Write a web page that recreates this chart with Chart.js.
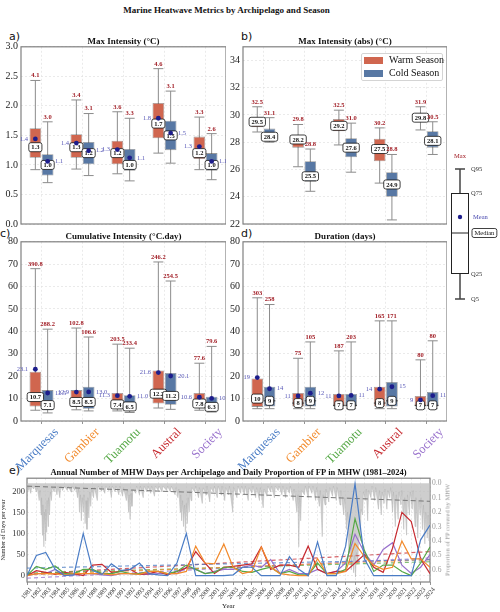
<!DOCTYPE html>
<html>
<head>
<meta charset="utf-8">
<script src="https://cdn.jsdelivr.net/npm/chart.js@4.4.1/dist/chart.umd.min.js"></script>
<style>
  body { margin: 0; background: #fff; }
  #page { position: relative; width: 500px; height: 612px; overflow: hidden; font-family: "Liberation Serif", serif; color: #111; }
  canvas { position: absolute; }
  .tag { position: absolute; font: 11px "DejaVu Sans", sans-serif; line-height: 1; }
  #title { position: absolute; left: 0; width: 453px; top: 5px; text-align: center; font-weight: bold; font-size: 9px; }
  #legend { position: absolute; left: 361px; top: 53px; width: 80px; height: 26px; border: 1px solid #d4d4d4; border-radius: 2px; background: rgba(255,255,255,0.9); font-size: 10px; }
  .li { position: absolute; left: 2px; height: 10px; line-height: 10px; white-space: nowrap; }
  .sw { display: inline-block; width: 19px; height: 7px; margin-right: 6px; vertical-align: -1px; }
  #y2title { position: absolute; left: 447px; top: 530px; transform: translate(-50%, -50%) rotate(-90deg); white-space: nowrap; font-size: 6.5px; color: #999; }
</style>
</head>
<body>
<div id="page">
  <div id="title">Marine Heatwave Metrics by Archipelago and Season</div>
  <div class="tag" style="left:9px;top:31px">a)</div>
  <div class="tag" style="left:241px;top:31px">b)</div>
  <div class="tag" style="left:0px;top:228px">c)</div>
  <div class="tag" style="left:241px;top:228px">d)</div>
  <div class="tag" style="left:9px;top:465px">e)</div>

  <canvas id="chartA" width="226" height="197" style="left:0;top:36px"></canvas>
  <canvas id="chartB" width="225" height="197" style="left:222px;top:36px"></canvas>
  <canvas id="chartC" width="226" height="240" style="left:0;top:231px"></canvas>
  <canvas id="chartD" width="225" height="240" style="left:222px;top:231px"></canvas>
  <canvas id="chartE" width="452" height="144" style="left:0;top:468px"></canvas>
  <canvas id="chartKey" width="60" height="155" style="left:440px;top:150px"></canvas>

  <div id="legend">
    <div class="li" style="top:1px"><span class="sw" style="background:#d0664f"></span>Warm Season</div>
    <div class="li" style="top:14px"><span class="sw" style="background:#5878a4"></span>Cold Season</div>
  </div>
  <div id="y2title">Proportion of FP covered by MHW</div>
</div>

<script>
Chart.defaults.font.family = '"Liberation Serif", "DejaVu Serif", serif';
Chart.defaults.color = '#222';

const archipelagos = ['Marquesas', 'Gambier', 'Tuamotu', 'Austral', 'Society'];
const archColors = ['#4a7cc5', '#f28a2c', '#55a845', '#c62a30', '#9870cc'];

// box stats per archipelago: q5, q25, median, q75, q95, mean, max
const maxIntWarm = [
  [0.92, 1.12, 1.3, 1.62, 2.43, 1.44, 4.1],
  [0.93, 1.12, 1.3, 1.52, 2.10, 1.37, 3.4],
  [0.85, 1.01, 1.2, 1.41, 1.90, 1.26, 3.6],
  [1.20, 1.45, 1.7, 2.05, 2.63, 1.79, 4.6],
  [0.92, 1.10, 1.2, 1.48, 1.81, 1.31, 3.3]
];
const maxIntCold = [
  [0.70, 0.82, 1.0, 1.18, 1.73, 1.06, 3.0],
  [0.82, 1.01, 1.2, 1.39, 1.87, 1.24, 3.1],
  [0.73, 0.90, 1.0, 1.27, 1.79, 1.12, 3.3],
  [1.03, 1.25, 1.5, 1.75, 2.25, 1.54, 3.1],
  [0.75, 0.90, 1.0, 1.20, 1.53, 1.06, 2.6]
];
const absIntWarm = [
  [28.75, 29.1, 29.5, 29.8, 30.6, 29.5, 32.5],
  [26.2, 27.6, 28.2, 28.5, 29.3, 28.2, 29.8],
  [27.8, 28.8, 29.2, 29.7, 30.35, 29.2, 32.5],
  [25.0, 26.6, 27.5, 28.25, 29.05, 27.5, 30.2],
  [28.9, 29.5, 29.8, 30.1, 30.6, 29.8, 31.9]
];
const absIntCold = [
  [28.0, 28.15, 28.4, 29.0, 29.8, 28.4, 31.1],
  [24.4, 25.1, 25.5, 26.6, 27.5, 25.5, 28.8],
  [25.8, 26.9, 27.6, 28.3, 29.4, 27.6, 31.0],
  [22.3, 24.0, 24.9, 25.8, 27.1, 24.9, 28.8],
  [27.1, 27.6, 28.1, 28.8, 29.5, 28.1, 30.5]
];
const cumIntWarm = [
  [4.8, 6.5, 10.7, 22.0, 68.0, 23.1, 390.8],
  [5.0, 6.3, 8.5, 13.8, 41.5, 12.9, 102.8],
  [4.5, 6.0, 7.4, 12.5, 34.3, 11.3, 203.5],
  [5.8, 7.8, 12.2, 22.6, 71.0, 21.6, 246.2],
  [4.8, 6.0, 7.8, 12.5, 25.8, 10.6, 77.6]
];
const cumIntCold = [
  [3.6, 4.8, 7.1, 13.8, 41.0, 12.5, 288.2],
  [4.5, 5.5, 8.5, 15.3, 37.5, 13.0, 106.6],
  [3.8, 5.0, 6.5, 11.5, 32.5, 11.0, 233.4],
  [5.2, 7.2, 11.2, 21.4, 62.5, 20.1, 254.5],
  [4.0, 4.5, 6.3, 10.8, 33.3, 10.1, 79.6]
];
const durWarm = [
  [5.5, 6.3, 10, 19.0, 55.0, 19.4, 303],
  [5.5, 6.5, 8, 12.5, 28.0, 11.2, 75],
  [5.5, 6.5, 7, 12.1, 31.3, 11.2, 187],
  [5.5, 6.5, 8, 15.3, 44.7, 14.2, 165],
  [5.5, 6.5, 7, 11.2, 27.3, 9.4, 80]
];
const durCold = [
  [5.5, 6.5, 9, 15.3, 52.0, 14.4, 258],
  [5.5, 6.5, 9, 15.3, 35.3, 12.4, 105],
  [5.5, 6.5, 7, 12.1, 35.3, 11.4, 203],
  [5.5, 6.5, 9, 17.4, 44.7, 15.3, 171],
  [5.5, 6.5, 7, 13.0, 35.8, 11.3, 80]
];

// schematic key: q5, q25, median, q75, q95, mean
const keyStats = [6, 31, 72, 112, 136, 88];

// panel e
const years = [1981, 1982, 1983, 1984, 1985, 1986, 1987, 1988, 1989, 1990, 1991, 1992, 1993, 1994, 1995,
  1996, 1997, 1998, 1999, 2000, 2001, 2002, 2003, 2004, 2005, 2006, 2007, 2008, 2009, 2010, 2011, 2012,
  2013, 2014, 2015, 2016, 2017, 2018, 2019, 2020, 2021, 2022, 2023, 2024];
const marquesasDays = [0, 48, 55, 15, 0, 2, 100, 12, 3, 28, 12, 15, 30, 5, 2, 0, 30, 100, 0, 0, 0, 0, 2, 20,
  20, 0, 0, 0, 45, 15, 0, 80, 0, 0, 70, 218, 40, 0, 0, 0, 0, 0, 85, 120];
const gambierDays = [0, 5, 5, 5, 2, 5, 5, 5, 5, 2, 5, 5, 3, 10, 10, 5, 5, 10, 70, 30, 28, 75, 20, 5,
  10, 68, 20, 5, 2, 0, 0, 40, 5, 5, 10, 76, 45, 25, 15, 20, 82, 40, 40, 20];
const tuamotuDays = [0, 22, 15, 23, 5, 5, 15, 15, 5, 5, 10, 5, 5, 10, 10, 5, 10, 25, 15, 5, 8, 20, 20, 10,
  8, 15, 20, 5, 10, 2, 2, 30, 5, 5, 15, 135, 60, 10, 25, 25, 10, 0, 30, 68];
const australDays = [0, 12, 8, 3, 8, 5, 0, 25, 27, 8, 10, 15, 3, 5, 10, 2, 10, 18, 57, 30, 5, 20, 22, 25,
  28, 68, 15, 25, 25, 20, 70, 15, 5, 10, 10, 30, 50, 20, 8, 65, 150, 128, 40, 5];
const societyDays = [0, 5, 5, 15, 2, 2, 5, 5, 2, 0, 5, 5, 3, 3, 5, 5, 5, 20, 15, 5, 10, 15, 15, 20,
  25, 20, 38, 5, 15, 5, 5, 15, 5, 10, 30, 98, 55, 25, 62, 78, 25, 5, 20, 50];
const daySeries = [marquesasDays, gambierDays, tuamotuDays, australDays, societyDays];
const trendYears = [1981, 2024];
const trendStart = [18, 2, 6, 4, -6];
const trendEnd = [38, 38, 33, 57, 42];
const fpTrend = [0.02, 0.125];
const dayTicks = [0, 50, 100, 150, 200];
const propTicks = [0, 0.1, 0.2, 0.3, 0.4, 0.5, 0.6];

// daily proportion of FP in MHW, [decimal year, proportion]
const fpSeries = [
  [1981.0,0.02],[1981.1,0.05],[1981.2,0.02],[1981.4,0.07],[1981.5,0.02],[1981.7,0.04],[1981.8,0.02],[1982.0,0.06],
  [1982.1,0.03],[1982.3,0.12],[1982.4,0.05],[1982.5,0.22],[1982.55,0.1],[1982.65,0.36],[1982.7,0.15],[1982.8,0.44],
  [1982.85,0.2],[1982.95,0.4],[1983.0,0.18],[1983.1,0.34],[1983.15,0.12],[1983.25,0.3],[1983.3,0.1],[1983.4,0.22],
  [1983.5,0.06],[1983.6,0.12],[1983.7,0.03],[1983.9,0.06],[1984.0,0.02],[1984.2,0.08],[1984.3,0.02],[1984.5,0.1],
  [1984.6,0.02],[1984.8,0.05],[1985.0,0.02],[1985.3,0.05],[1985.4,0.02],[1985.7,0.06],[1985.8,0.02],[1986.1,0.05],
  [1986.2,0.02],[1986.4,0.1],[1986.5,0.04],[1986.6,0.2],[1986.7,0.08],[1986.8,0.26],[1986.9,0.1],[1987.0,0.2],
  [1987.1,0.08],[1987.2,0.28],[1987.3,0.12],[1987.4,0.32],[1987.5,0.1],[1987.6,0.24],[1987.7,0.06],[1987.8,0.16],
  [1987.9,0.04],[1988.1,0.1],[1988.2,0.03],[1988.5,0.12],[1988.6,0.02],[1988.9,0.05],[1989.0,0.02],[1989.3,0.07],
  [1989.4,0.02],[1989.7,0.05],[1989.8,0.02],[1990.0,0.1],[1990.1,0.02],[1990.4,0.06],[1990.5,0.02],[1990.8,0.08],
  [1990.9,0.02],[1991.2,0.09],[1991.3,0.03],[1991.6,0.12],[1991.7,0.05],[1991.85,0.2],[1991.9,0.08],[1992.0,0.25],
  [1992.1,0.07],[1992.2,0.16],[1992.3,0.04],[1992.6,0.07],[1992.7,0.02],[1993.0,0.08],[1993.1,0.02],[1993.4,0.1],
  [1993.5,0.02],[1993.8,0.06],[1993.9,0.02],[1994.2,0.07],[1994.3,0.02],[1994.6,0.09],[1994.7,0.02],[1995.0,0.05],
  [1995.1,0.02],[1995.4,0.06],[1995.5,0.02],[1995.9,0.05],[1996.0,0.02],[1996.3,0.06],[1996.4,0.02],[1996.8,0.08],
  [1996.9,0.03],[1997.1,0.1],[1997.2,0.04],[1997.35,0.2],[1997.4,0.08],[1997.5,0.26],[1997.6,0.12],[1997.7,0.3],
  [1997.8,0.15],[1997.9,0.34],[1998.0,0.14],[1998.1,0.28],[1998.2,0.1],[1998.3,0.2],[1998.4,0.05],[1998.5,0.12],
  [1998.6,0.03],[1998.9,0.06],[1999.0,0.02],[1999.3,0.1],[1999.4,0.03],[1999.7,0.14],[1999.8,0.03],[2000.1,0.08],
  [2000.2,0.02],[2000.5,0.13],[2000.6,0.03],[2000.9,0.06],[2001.0,0.02],[2001.3,0.1],[2001.4,0.02],[2001.7,0.08],
  [2001.8,0.02],[2002.1,0.12],[2002.2,0.03],[2002.5,0.08],[2002.6,0.02],[2002.95,0.2],[2003.05,0.03],[2003.4,0.1],
  [2003.5,0.02],[2003.8,0.07],[2003.9,0.02],[2004.2,0.08],[2004.3,0.02],[2004.6,0.12],[2004.7,0.03],[2005.0,0.07],
  [2005.1,0.02],[2005.4,0.1],[2005.5,0.03],[2005.8,0.12],[2005.9,0.03],[2006.2,0.17],[2006.3,0.04],[2006.6,0.09],
  [2006.7,0.02],[2007.0,0.06],[2007.1,0.02],[2007.4,0.1],[2007.5,0.02],[2007.8,0.05],[2007.9,0.02],[2008.2,0.08],
  [2008.3,0.02],[2008.6,0.1],[2008.7,0.03],[2009.0,0.07],[2009.1,0.02],[2009.4,0.12],[2009.5,0.04],[2009.8,0.2],
  [2009.9,0.08],[2010.0,0.44],[2010.1,0.1],[2010.2,0.26],[2010.3,0.05],[2010.6,0.08],[2010.7,0.02],[2011.0,0.1],
  [2011.1,0.02],[2011.4,0.07],[2011.5,0.02],[2011.8,0.12],[2011.9,0.03],[2012.2,0.16],[2012.3,0.05],[2012.5,0.37],
  [2012.6,0.08],[2012.8,0.15],[2012.9,0.04],[2013.2,0.13],[2013.3,0.03],[2013.6,0.09],[2013.7,0.02],[2014.0,0.12],
  [2014.1,0.03],[2014.4,0.15],[2014.5,0.05],[2014.8,0.22],[2014.9,0.1],[2015.1,0.32],[2015.2,0.2],[2015.35,0.48],
  [2015.45,0.35],[2015.6,0.6],[2015.7,0.45],[2015.85,0.62],[2015.95,0.5],[2016.05,0.65],[2016.15,0.48],[2016.3,0.56],
  [2016.4,0.32],[2016.55,0.4],[2016.65,0.18],[2016.8,0.22],[2016.9,0.06],[2017.1,0.12],[2017.2,0.04],[2017.35,0.26],
  [2017.45,0.05],[2017.7,0.1],[2017.8,0.02],[2018.1,0.12],[2018.2,0.03],[2018.5,0.18],[2018.6,0.05],[2018.8,0.22],
  [2018.9,0.06],[2019.1,0.14],[2019.2,0.04],[2019.4,0.18],[2019.5,0.05],[2019.7,0.1],[2019.8,0.03],[2020.0,0.2],
  [2020.1,0.06],[2020.3,0.3],[2020.4,0.08],[2020.6,0.25],[2020.7,0.06],[2020.9,0.15],[2021.0,0.05],[2021.2,0.32],
  [2021.3,0.1],[2021.5,0.36],[2021.6,0.08],[2021.8,0.22],[2021.9,0.06],[2022.1,0.18],[2022.2,0.05],[2022.4,0.3],
  [2022.5,0.1],[2022.7,0.38],[2022.8,0.12],[2022.95,0.22],[2023.05,0.1],[2023.2,0.32],[2023.3,0.15],[2023.45,0.42],
  [2023.55,0.2],[2023.7,0.38],[2023.8,0.22],[2023.9,0.4],[2024.0,0.3]
];

const warmFill = '#d0664f', coldFill = '#5878a4';
const gridGrey = '#e2e2e2';

function drawTag(ctx, text, cx, cy) {
  const w = ctx.measureText(text).width + 5, h = 9;
  ctx.beginPath();
  if (ctx.roundRect) ctx.roundRect(cx - w / 2, cy - h / 2, w, h, 2);
  else ctx.rect(cx - w / 2, cy - h / 2, w, h);
  ctx.fillStyle = '#fff';
  ctx.fill();
  ctx.strokeStyle = '#111';
  ctx.lineWidth = 0.8;
  ctx.stroke();
  ctx.fillStyle = '#111';
  ctx.textAlign = 'center';
  ctx.textBaseline = 'middle';
  ctx.fillText(text, cx, cy + 0.5);
}

const framePlugin = {
  id: 'frame',
  beforeDatasetsDraw(chart) {
    const { ctx, chartArea: a } = chart;
    ctx.save();
    ctx.strokeStyle = '#808080';
    ctx.lineWidth = 1.2;
    ctx.strokeRect(a.left, a.top, a.right - a.left, a.bottom - a.top);
    ctx.restore();
  }
};

const boxPlugin = {
  id: 'boxes',
  beforeDatasetsDraw(chart) {
    const ctx = chart.ctx, y = chart.scales.y;
    ctx.save();
    ctx.strokeStyle = '#8c8c8c';
    ctx.lineWidth = 1;
    chart.data.datasets.forEach((ds, i) => {
      chart.getDatasetMeta(i).data.forEach((bar, j) => {
        const r = ds.stats[j];
        ctx.beginPath();
        ctx.moveTo(bar.x, y.getPixelForValue(r[0]));
        ctx.lineTo(bar.x, y.getPixelForValue(r[4]));
        [r[0], r[4]].forEach(v => {
          const p = y.getPixelForValue(v);
          ctx.moveTo(bar.x - 5, p);
          ctx.lineTo(bar.x + 5, p);
        });
        ctx.stroke();
      });
    });
    ctx.restore();
  },
  afterDatasetsDraw(chart, args, opt) {
    const ctx = chart.ctx, y = chart.scales.y;
    const fmt = v => v.toFixed(opt.digits);
    ctx.save();
    chart.data.datasets.forEach((ds, i) => {
      chart.getDatasetMeta(i).data.forEach((bar, j) => {
        const [q5, q25, med, q75, q95, mean, max] = ds.stats[j];
        const half = bar.width / 2, pm = y.getPixelForValue(med);
        ctx.strokeStyle = '#333';
        ctx.lineWidth = 1;
        ctx.beginPath();
        ctx.moveTo(bar.x - half, pm);
        ctx.lineTo(bar.x + half, pm);
        ctx.stroke();
        ctx.font = 'bold 6.5px "Liberation Serif"';
        drawTag(ctx, fmt(med), bar.x, pm);
        if (opt.showMean) {
          const pmean = y.getPixelForValue(mean);
          ctx.fillStyle = '#1d1d8c';
          ctx.beginPath();
          ctx.arc(bar.x, pmean, 2.4, 0, Math.PI * 2);
          ctx.fill();
          ctx.font = '6.5px "Liberation Serif"';
          ctx.fillStyle = '#5a5ab8';
          ctx.textBaseline = 'middle';
          if (ds.side < 0) {
            ctx.textAlign = 'right';
            ctx.fillText(fmt(mean), bar.x - half - 1.5, pmean);
          } else {
            ctx.textAlign = 'left';
            ctx.fillText(fmt(mean), bar.x + half + 1.5, pmean);
          }
        }
        ctx.font = 'bold 6.5px "Liberation Serif"';
        ctx.fillStyle = '#a11d25';
        ctx.textAlign = 'center';
        ctx.textBaseline = 'bottom';
        ctx.fillText(fmt(max), bar.x, y.getPixelForValue(q95) - 1.5);
      });
    });
    ctx.restore();
  }
};

function boxPanel(id, title, warm, cold, yOpts, opt) {
  const xAxis = {
    grid: { color: gridGrey, lineWidth: 0.7, offset: false, drawTicks: opt.showCats, tickLength: 3, tickColor: '#666' },
    border: { display: false, dash: [2, 2] },
    ticks: opt.showCats ? {
      autoSkip: false, minRotation: 45, maxRotation: 45, labelOffset: 15, padding: 1,
      font: { size: 12.5 }, color: c => archColors[c.index]
    } : { display: false },
    afterFit: s => { s.height = opt.showCats ? 50 : 8; }
  };
  return new Chart(document.getElementById(id), {
    type: 'bar',
    data: {
      labels: archipelagos,
      datasets: [
        { label: 'Warm Season', data: warm.map(r => [r[1], r[3]]), stats: warm, side: -1,
          backgroundColor: warmFill, borderColor: 'rgba(70,70,70,0.55)', borderWidth: 0.8, borderSkipped: false,
          categoryPercentage: 0.6, barPercentage: 0.95 },
        { label: 'Cold Season', data: cold.map(r => [r[1], r[3]]), stats: cold, side: 1,
          backgroundColor: coldFill, borderColor: 'rgba(70,70,70,0.55)', borderWidth: 0.8, borderSkipped: false,
          categoryPercentage: 0.6, barPercentage: 0.95 }
      ]
    },
    options: {
      responsive: false,
      animation: false,
      plugins: {
        legend: { display: false },
        tooltip: { enabled: false },
        title: { display: true, text: title, fullSize: false, padding: { top: 0, bottom: 0 },
          font: { size: 9, weight: 'bold' }, color: '#111' },
        boxes: { digits: opt.digits, showMean: opt.showMean }
      },
      scales: {
        x: xAxis,
        y: Object.assign({
          grid: { color: gridGrey, lineWidth: 0.7, drawTicks: false },
          border: { display: false, dash: [2, 2] },
          afterFit: s => { s.width = 21; }
        }, yOpts)
      }
    },
    plugins: [framePlugin, boxPlugin]
  });
}

boxPanel('chartA', 'Max Intensity (°C)', maxIntWarm, maxIntCold,
  { min: 0, max: 3, ticks: { stepSize: 0.5, padding: 3, font: { size: 10 }, callback: v => v.toFixed(1) } },
  { digits: 1, showMean: true, showCats: false });
boxPanel('chartB', 'Max Intensity (abs) (°C)', absIntWarm, absIntCold,
  { min: 22, max: 35, ticks: { stepSize: 2, includeBounds: false, padding: 3, font: { size: 10 } } },
  { digits: 1, showMean: false, showCats: false });
boxPanel('chartC', 'Cumulative Intensity (°C.day)', cumIntWarm, cumIntCold,
  { min: 0, max: 80, ticks: { stepSize: 10, padding: 3, font: { size: 10 } } },
  { digits: 1, showMean: true, showCats: true });
boxPanel('chartD', 'Duration (days)', durWarm, durCold,
  { min: 0, max: 80, ticks: { stepSize: 10, padding: 3, font: { size: 10 } } },
  { digits: 0, showMean: true, showCats: true });

// schematic key
const keyPlugin = {
  id: 'keyBox',
  beforeDatasetsDraw(chart) {
    const ctx = chart.ctx, y = chart.scales.y, bar = chart.getDatasetMeta(0).data[0];
    ctx.save();
    ctx.strokeStyle = '#444';
    ctx.lineWidth = 1.5;
    ctx.beginPath();
    ctx.moveTo(bar.x, y.getPixelForValue(keyStats[0]));
    ctx.lineTo(bar.x, y.getPixelForValue(keyStats[4]));
    [keyStats[0], keyStats[4]].forEach(v => {
      const p = y.getPixelForValue(v);
      ctx.moveTo(bar.x - 5, p);
      ctx.lineTo(bar.x + 5, p);
    });
    ctx.stroke();
    ctx.restore();
  },
  afterDatasetsDraw(chart) {
    const ctx = chart.ctx, y = chart.scales.y, bar = chart.getDatasetMeta(0).data[0];
    const half = bar.width / 2, tx = bar.x + half + 2;
    const pm = y.getPixelForValue(keyStats[2]);
    ctx.save();
    ctx.strokeStyle = '#222';
    ctx.lineWidth = 1;
    ctx.beginPath();
    ctx.moveTo(bar.x - half, pm);
    ctx.lineTo(bar.x + half, pm);
    ctx.stroke();
    ctx.fillStyle = '#1d1d8c';
    ctx.beginPath();
    ctx.arc(bar.x, y.getPixelForValue(keyStats[5]), 2.2, 0, Math.PI * 2);
    ctx.fill();
    ctx.font = '6.5px "Liberation Serif"';
    ctx.textBaseline = 'middle';
    ctx.textAlign = 'left';
    ctx.fillStyle = '#333';
    [['Q5', keyStats[0]], ['Q25', keyStats[1]], ['Q75', keyStats[3]], ['Q95', keyStats[4]]].forEach(([t, v]) => {
      ctx.fillText(t, tx, y.getPixelForValue(v));
    });
    ctx.fillStyle = '#4b4bb0';
    ctx.fillText('Mean', tx + 2, y.getPixelForValue(keyStats[5]));
    ctx.fillStyle = '#a11d25';
    ctx.textAlign = 'center';
    ctx.fillText('Max', bar.x, y.getPixelForValue(keyStats[4]) - 13);
    const w = ctx.measureText('Median').width + 5;
    drawTag(ctx, 'Median', tx + 1 + w / 2, pm);
    ctx.restore();
  }
};

new Chart(document.getElementById('chartKey'), {
  type: 'bar',
  data: {
    labels: [''],
    datasets: [{ data: [[keyStats[1], keyStats[3]]], backgroundColor: '#fff', borderColor: '#222',
      borderWidth: 1, borderSkipped: false, barPercentage: 0.45, categoryPercentage: 1 }]
  },
  options: {
    responsive: false,
    animation: false,
    layout: { padding: { left: 0, right: 20, top: 0, bottom: 0 } },
    plugins: { legend: { display: false }, tooltip: { enabled: false } },
    scales: {
      x: { display: false },
      y: { display: false, min: 0, max: 155 }
    }
  },
  plugins: [keyPlugin]
});

// panel e
const eDatasets = [];
archipelagos.forEach((name, k) => {
  eDatasets.push({ label: name, data: daySeries[k], yAxisID: 'y', borderColor: archColors[k],
    borderWidth: 1.2, pointRadius: 0, order: 1 });
});
archipelagos.forEach((name, k) => {
  eDatasets.push({ label: name + ' trend', data: [[trendYears[0], trendStart[k]], [trendYears[1], trendEnd[k]]],
    yAxisID: 'y', borderColor: archColors[k] + 'bb', borderWidth: 1.2, borderDash: [4, 3], pointRadius: 0, order: 2 });
});
eDatasets.push({ label: 'FP trend', data: [[trendYears[0], fpTrend[0]], [trendYears[1], fpTrend[1]]],
  yAxisID: 'y2', borderColor: '#777', borderWidth: 1, borderDash: [5, 3], pointRadius: 0, order: 3 });
eDatasets.push({ label: 'FP in MHW', data: fpSeries, yAxisID: 'y2', fill: { value: 0 },
  backgroundColor: 'rgba(190,190,190,0.75)', borderColor: 'rgba(175,175,175,0.9)', borderWidth: 0.5,
  pointRadius: 0, order: 5 });

new Chart(document.getElementById('chartE'), {
  type: 'line',
  data: { labels: years, datasets: eDatasets },
  options: {
    responsive: false,
    animation: false,
    plugins: {
      legend: { display: false },
      tooltip: { enabled: false },
      title: { display: true, fullSize: false, padding: { top: 0, bottom: 0 }, font: { size: 8.5, weight: 'bold' }, color: '#111',
        text: 'Annual Number of MHW Days per Archipelago and Daily Proportion of FP in MHW (1981–2024)' }
    },
    scales: {
      x: {
        type: 'linear', min: 1981, max: 2024,
        afterBuildTicks: s => { s.ticks = years.map(v => ({ value: v })); },
        ticks: { autoSkip: false, minRotation: 50, maxRotation: 50, labelOffset: 4, padding: 1,
          font: { size: 6.5 }, color: '#333', callback: v => String(v) },
        grid: { color: gridGrey, lineWidth: 0.7, tickLength: 3, tickColor: '#666' },
        border: { display: false, dash: [2, 2] },
        title: { display: true, text: 'Year', font: { size: 7 }, padding: { top: 0, bottom: 2 }, color: '#222' },
        afterFit: s => { s.height = 30; }
      },
      y: {
        min: -15, max: 231,
        afterBuildTicks: s => { s.ticks = dayTicks.map(v => ({ value: v })); },
        ticks: { font: { size: 8.5 }, padding: 2, color: '#333' },
        grid: { color: gridGrey, lineWidth: 0.7, drawTicks: false },
        border: { display: false, dash: [2, 2] },
        title: { display: true, text: 'Number of Days per year', font: { size: 6 }, padding: { top: 0, bottom: 1 }, color: '#222' },
        afterFit: s => { s.width = 27; }
      },
      y2: {
        position: 'right', reverse: true, min: -0.035, max: 0.684,
        afterBuildTicks: s => { s.ticks = propTicks.map(v => ({ value: v })); },
        ticks: { font: { size: 7.5 }, padding: 2, color: '#9a9a9a', callback: v => v.toFixed(1) },
        grid: { drawOnChartArea: false, drawTicks: false },
        border: { display: false },
        afterFit: s => { s.width = 22; }
      }
    }
  },
  plugins: [framePlugin]
});
</script>
</body>
</html>
